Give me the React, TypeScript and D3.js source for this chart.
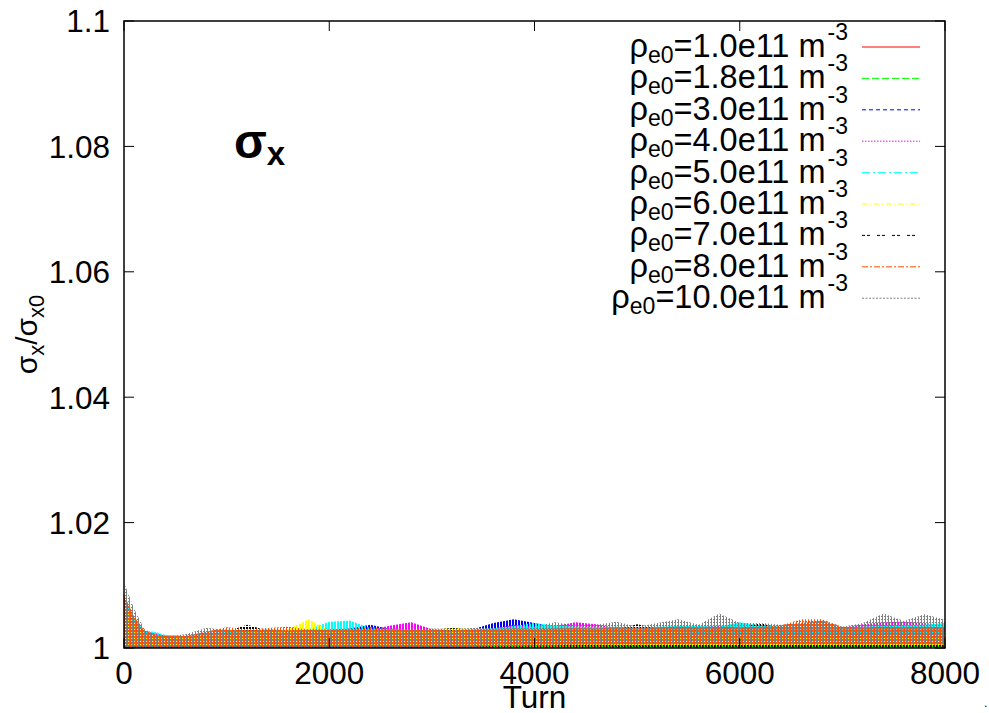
import React from "react";
import * as d3 from "d3";

// ---------- DATA ----------
const turns = [0,100,200,300,400,600,800,1000,1200,1400,1600,1800,2000,2200,2400,2600,2800,3000,3200,3400,3600,3800,4000,4200,4400,4600,4800,5000,5200,5400,5600,5800,6000,6200,6400,6600,6800,7000,7200,7400,7600,7800,8000];

const densityLabels = ["1.0","1.8","3.0","4.0","5.0","6.0","7.0","8.0","10.0"];

// upper envelope of each oscillating series (sigma_x / sigma_x0)
const hiRed = [1.0070,1.0042,1.0024,1.0019,1.0017,1.0017,1.0020,1.0022,1.0024,1.0023,1.0024,1.0025,1.0026,1.0025,1.0024,1.0025,1.0024,1.0025,1.0024,1.0025,1.0026,1.0025,1.0024,1.0023,1.0024,1.0022,1.0021,1.0020,1.0021,1.0019,1.0018,1.0018,1.0017,1.0018,1.0016,1.0017,1.0015,1.0013,1.0012,1.0012,1.0014,1.0015,1.0016];
const hiGreen = [1.0075,1.0044,1.0023,1.0018,1.0016,1.0017,1.0019,1.0021,1.0022,1.0022,1.0023,1.0022,1.0023,1.0022,1.0021,1.0022,1.0021,1.0022,1.0021,1.0020,1.0021,1.0020,1.0019,1.0018,1.0018,1.0017,1.0015,1.0014,1.0014,1.0013,1.0012,1.0012,1.0011,1.0012,1.0011,1.0012,1.0011,1.0010,1.0011,1.0010,1.0011,1.0012,1.0012];
const hiBlue = [1.0072,1.0043,1.0024,1.0020,1.0018,1.0018,1.0022,1.0024,1.0025,1.0026,1.0026,1.0027,1.0028,1.0031,1.0037,1.0030,1.0028,1.0027,1.0028,1.0030,1.0040,1.0046,1.0040,1.0033,1.0030,1.0029,1.0028,1.0027,1.0028,1.0027,1.0026,1.0027,1.0026,1.0025,1.0026,1.0025,1.0024,1.0025,1.0026,1.0025,1.0026,1.0027,1.0026];
const hiMagenta = [1.0070,1.0045,1.0025,1.0024,1.0020,1.0019,1.0022,1.0024,1.0025,1.0025,1.0026,1.0026,1.0027,1.0028,1.0029,1.0036,1.0041,1.0030,1.0028,1.0028,1.0031,1.0037,1.0034,1.0035,1.0041,1.0038,1.0032,1.0031,1.0032,1.0033,1.0034,1.0036,1.0033,1.0032,1.0033,1.0034,1.0033,1.0032,1.0038,1.0041,1.0042,1.0040,1.0036];
const hiCyan = [1.0078,1.0046,1.0027,1.0026,1.0021,1.0019,1.0023,1.0025,1.0027,1.0031,1.0028,1.0030,1.0042,1.0044,1.0032,1.0030,1.0029,1.0028,1.0029,1.0029,1.0032,1.0035,1.0040,1.0036,1.0034,1.0033,1.0034,1.0033,1.0034,1.0035,1.0035,1.0034,1.0041,1.0036,1.0034,1.0033,1.0034,1.0033,1.0034,1.0035,1.0036,1.0037,1.0040];
const hiYellow = [1.0074,1.0044,1.0024,1.0020,1.0018,1.0018,1.0022,1.0024,1.0025,1.0026,1.0030,1.0046,1.0028,1.0027,1.0027,1.0028,1.0027,1.0029,1.0032,1.0031,1.0027,1.0026,1.0027,1.0026,1.0027,1.0026,1.0025,1.0026,1.0025,1.0026,1.0024,1.0025,1.0024,1.0025,1.0024,1.0023,1.0024,1.0023,1.0024,1.0023,1.0022,1.0023,1.0022];
const hiBlack = [1.0080,1.0046,1.0025,1.0021,1.0018,1.0018,1.0023,1.0026,1.0037,1.0028,1.0027,1.0027,1.0028,1.0027,1.0028,1.0027,1.0028,1.0029,1.0032,1.0029,1.0028,1.0029,1.0028,1.0027,1.0028,1.0029,1.0030,1.0038,1.0031,1.0030,1.0029,1.0030,1.0031,1.0040,1.0031,1.0030,1.0029,1.0028,1.0027,1.0028,1.0027,1.0028,1.0027];
const hiOrange = [1.0085,1.0050,1.0028,1.0022,1.0019,1.0019,1.0026,1.0033,1.0030,1.0032,1.0034,1.0030,1.0029,1.0030,1.0034,1.0029,1.0030,1.0029,1.0028,1.0030,1.0030,1.0031,1.0030,1.0031,1.0032,1.0031,1.0033,1.0032,1.0033,1.0034,1.0033,1.0034,1.0033,1.0034,1.0036,1.0046,1.0046,1.0034,1.0033,1.0034,1.0033,1.0034,1.0033];
const hiGray = [1.0105,1.0062,1.0030,1.0022,1.0018,1.0022,1.0032,1.0029,1.0028,1.0029,1.0028,1.0029,1.0030,1.0031,1.0030,1.0031,1.0030,1.0031,1.0030,1.0032,1.0031,1.0032,1.0034,1.0041,1.0036,1.0037,1.0042,1.0034,1.0040,1.0046,1.0037,1.0055,1.0040,1.0040,1.0037,1.0040,1.0044,1.0034,1.0040,1.0055,1.0043,1.0054,1.0045];

// lower envelope of each series
const loRed = [1.0000,1.0000,1.0000,1.0000,1.0000,1.0000,1.0000,1.0000,1.0000,1.0000,1.0000,1.0000,1.0000,1.0000,1.0000,1.0000,1.0000,1.0000,1.0000,1.0000,1.0000,1.0000,1.0000,1.0000,1.0000,1.0000,1.0000,1.0000,1.0000,1.0000,1.0000,1.0000,1.0000,1.0000,1.0000,1.0000,1.0000,1.0000,1.0000,1.0000,1.0000,1.0000,1.0000];
const loGreen = [1.0000,1.0000,1.0000,1.0000,1.0000,1.0000,1.0000,1.0000,1.0000,1.0000,1.0000,1.0000,1.0000,1.0000,1.0000,1.0000,1.0000,1.0000,1.0000,1.0000,1.0000,1.0000,1.0000,1.0000,1.0000,1.0000,1.0000,1.0000,1.0000,1.0000,1.0000,1.0000,1.0000,1.0000,1.0000,1.0000,1.0000,1.0000,1.0000,1.0000,1.0000,1.0000,1.0000];
const loBlue = [1.0002,1.0002,1.0002,1.0002,1.0002,1.0002,1.0002,1.0002,1.0002,1.0002,1.0002,1.0002,1.0002,1.0002,1.0002,1.0002,1.0002,1.0002,1.0002,1.0002,1.0003,1.0003,1.0003,1.0003,1.0003,1.0003,1.0003,1.0003,1.0003,1.0003,1.0003,1.0003,1.0003,1.0003,1.0003,1.0003,1.0003,1.0003,1.0003,1.0003,1.0003,1.0003,1.0003];
const loMagenta = [1.0004,1.0004,1.0004,1.0004,1.0004,1.0004,1.0004,1.0004,1.0004,1.0004,1.0004,1.0004,1.0004,1.0004,1.0004,1.0004,1.0004,1.0004,1.0004,1.0004,1.0004,1.0004,1.0004,1.0004,1.0004,1.0004,1.0004,1.0004,1.0004,1.0004,1.0004,1.0004,1.0004,1.0004,1.0004,1.0004,1.0004,1.0004,1.0004,1.0004,1.0004,1.0004,1.0004];
const loCyan = [1.0003,1.0003,1.0003,1.0003,1.0003,1.0003,1.0003,1.0003,1.0003,1.0003,1.0003,1.0003,1.0003,1.0003,1.0003,1.0003,1.0003,1.0003,1.0003,1.0003,1.0004,1.0004,1.0005,1.0005,1.0005,1.0005,1.0005,1.0005,1.0006,1.0006,1.0006,1.0006,1.0006,1.0006,1.0006,1.0006,1.0006,1.0006,1.0006,1.0006,1.0006,1.0006,1.0006];
const loYellow = [1.0003,1.0003,1.0003,1.0003,1.0003,1.0003,1.0003,1.0003,1.0003,1.0003,1.0003,1.0003,1.0003,1.0003,1.0003,1.0003,1.0003,1.0003,1.0003,1.0003,1.0003,1.0003,1.0003,1.0003,1.0003,1.0003,1.0003,1.0003,1.0003,1.0003,1.0003,1.0003,1.0003,1.0003,1.0003,1.0003,1.0003,1.0003,1.0003,1.0003,1.0003,1.0003,1.0003];
const loBlack = [1.0002,1.0002,1.0002,1.0002,1.0002,1.0002,1.0002,1.0002,1.0002,1.0002,1.0002,1.0002,1.0002,1.0002,1.0002,1.0002,1.0002,1.0002,1.0002,1.0002,1.0002,1.0002,1.0002,1.0002,1.0002,1.0002,1.0002,1.0002,1.0002,1.0002,1.0002,1.0002,1.0002,1.0002,1.0002,1.0002,1.0002,1.0002,1.0002,1.0002,1.0002,1.0002,1.0002];
const loOrange = [1.0000,1.0000,1.0000,1.0000,1.0000,1.0000,1.0000,1.0000,1.0000,1.0000,1.0000,1.0000,1.0000,1.0000,1.0000,1.0000,1.0000,1.0000,1.0000,1.0000,1.0000,1.0000,1.0001,1.0001,1.0002,1.0002,1.0003,1.0003,1.0004,1.0004,1.0004,1.0004,1.0004,1.0004,1.0004,1.0004,1.0004,1.0004,1.0004,1.0004,1.0004,1.0004,1.0004];
const loGray = [1.0002,1.0002,1.0002,1.0002,1.0002,1.0002,1.0002,1.0002,1.0002,1.0002,1.0002,1.0002,1.0002,1.0002,1.0002,1.0002,1.0002,1.0002,1.0002,1.0002,1.0003,1.0003,1.0004,1.0004,1.0005,1.0005,1.0006,1.0006,1.0006,1.0006,1.0006,1.0006,1.0006,1.0006,1.0006,1.0006,1.0006,1.0006,1.0006,1.0006,1.0006,1.0006,1.0006];

const hiSeries = [hiRed, hiGreen, hiBlue, hiMagenta, hiCyan, hiYellow, hiBlack, hiOrange, hiGray];
const loSeries = [loRed, loGreen, loBlue, loMagenta, loCyan, loYellow, loBlack, loOrange, loGray];

const xTicks = [0, 2000, 4000, 6000, 8000];
const yTicks = [1, 1.02, 1.04, 1.06, 1.08, 1.1];
const yTickLabels = ["1", "1.02", "1.04", "1.06", "1.08", "1.1"];

// ---------- STYLE ----------
const colors = ["#ff0000", "#00ff00", "#0000ff", "#ff00ff", "#00ffff", "#ffff00", "#000000", "#ff4d00", "#808080"];
const dashes = ["", "7,3", "4,3", "1.5,1.5", "8,3,2,3", "5,3,1,3", "3,2,3,7", "6,2,2,2", "2,1.5"];
// vertical hatching of each band: [tileW, tileH, [[x, y, w, h], ...]]
const hatch: [number, number, number[][]][] = [
  [3, 1, [[0, 0, 2, 1]]],
  [3, 1, [[1, 0, 2, 1]]],
  [3, 1, [[2, 0, 1, 1], [0, 0, 1, 1]]],
  [3, 1, [[0, 0, 2, 1]]],
  [3, 1, [[1, 0, 2, 1]]],
  [3, 1, [[2, 0, 1, 1], [0, 0, 1, 1]]],
  [3, 3, [[0, 0, 2, 2]]],
  [3, 3, [[1, 0, 1, 3], [2, 0, 1, 1]]],
  [3, 3, [[0, 0, 1, 3], [2, 1, 1, 1]]],
];

const W = 989, H = 713;
const L = 124, R = 945, T = 21, B = 648;
const FONT = "'Liberation Sans', Arial, Helvetica, sans-serif";
const FS = 31.5;

export default function App() {
  const x = d3.scaleLinear().domain([0, 8000]).range([L, R]);
  const y = d3.scaleLinear().domain([1, 1.1]).range([B, T]);

  const areas = hiSeries.map((hi, s) =>
    d3.area<number>()
      .x((_, i) => x(turns[i]))
      .y0((_, i) => y(loSeries[s][i]))
      .y1((d) => y(d))(hi) || ""
  );

  const rowY = (i: number) => 47 + i * 31.4;
  const tick = 10;

  return (
    <svg width={W} height={H} style={{ position: "absolute", left: 0, top: 0, display: "block", background: "#fff" }} fontFamily={FONT}>
      <defs>
        <clipPath id="plotclip">
          <rect x={L} y={T} width={R - L} height={B - T} />
        </clipPath>
        {hatch.map(([w, h, rects], s) => (
          <pattern key={s} id={`hatch${s}`} width={w} height={h} patternUnits="userSpaceOnUse">
            {rects.map((r, k) => (
              <rect key={k} x={r[0]} y={r[1]} width={r[2]} height={r[3]} fill={colors[s]} />
            ))}
          </pattern>
        ))}
      </defs>
      <rect x={0} y={0} width={W} height={H} fill="#fff" />

      {/* data bands */}
      <g clipPath="url(#plotclip)">
        {areas.map((d, s) => (
          <path key={s} d={d} fill={`url(#hatch${s})`} />
        ))}
      </g>

      {/* ticks */}
      {yTicks.map((v, i) => (
        <g key={"y" + i}>
          <line x1={L} x2={L + tick} y1={y(v)} y2={y(v)} stroke="#000" strokeWidth={1} />
          <line x1={R} x2={R - tick} y1={y(v)} y2={y(v)} stroke="#000" strokeWidth={1} />
          <text x={110} y={y(v)} dy="0.36em" textAnchor="end" fontSize={FS}>{yTickLabels[i]}</text>
        </g>
      ))}
      {xTicks.map((v, i) => (
        <g key={"x" + i}>
          <line x1={x(v)} x2={x(v)} y1={B} y2={B - tick} stroke="#000" strokeWidth={1} />
          <line x1={x(v)} x2={x(v)} y1={T} y2={T + tick} stroke="#000" strokeWidth={1} />
          <text x={x(v)} y={684} textAnchor="middle" fontSize={FS}>{String(v)}</text>
        </g>
      ))}

      {/* frame */}
      <rect x={L} y={T} width={R - L} height={B - T} fill="none" stroke="#000" strokeWidth={1.5} />

      {/* axis labels */}
      <text x={(L + R) / 2} y={708} textAnchor="middle" fontSize={FS}>Turn</text>
      <text transform={`translate(37,${(T + B) / 2}) rotate(-90)`} textAnchor="middle" fontSize={30}>
        σ<tspan fontSize={22} dy={7}>x</tspan><tspan dy={-7}>/σ</tspan><tspan fontSize={22} dy={7}>x0</tspan>
      </text>

      {/* title */}
      <text x={234} y={158} fontSize={48} fontWeight="bold">
        σ<tspan fontSize={33} dy={7}>x</tspan>
      </text>

      {/* legend */}
      {densityLabels.map((lab, i) => (
        <g key={"lg" + i}>
          <text x={848} y={rowY(i) + 10} textAnchor="end" fontSize={32.5}>
            ρ<tspan fontSize={23} dy={6}>e0</tspan><tspan dy={-6}>{`=${lab}e11 m`}</tspan><tspan fontSize={23} dx={2} dy={-17}>-3</tspan>
          </text>
          <line x1={862} x2={920} y1={rowY(i)} y2={rowY(i)} stroke={colors[i]} strokeWidth={1} strokeDasharray={dashes[i] || undefined} />
        </g>
      ))}

      <text x={984} y={707} fontSize={12}>.</text>
    </svg>
  );
}
